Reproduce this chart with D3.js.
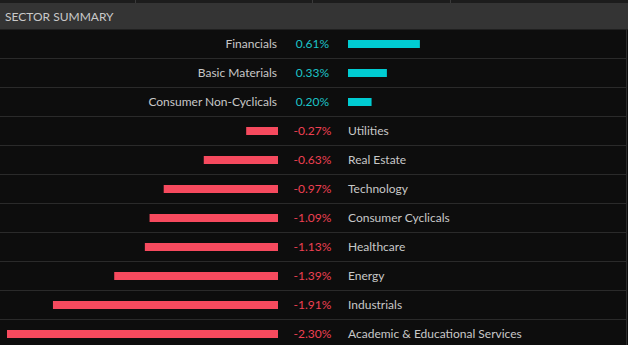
<!DOCTYPE html>
<html><head><meta charset="utf-8">
<script src="https://cdn.jsdelivr.net/npm/d3@7"></script>
<style>html,body{margin:0;padding:0;background:#0d0d0d;overflow:hidden}</style>
</head><body>
<script>
const title = "SECTOR SUMMARY";
const sectors = ["Financials","Basic Materials","Consumer Non-Cyclicals","Utilities","Real Estate","Technology","Consumer Cyclicals","Healthcare","Energy","Industrials","Academic & Educational Services"];
const values = [0.61,0.33,0.20,-0.27,-0.63,-0.97,-1.09,-1.13,-1.39,-1.91,-2.30];
const topSeparators = [135, 312, 450];

const W = 628, H = 345;
const FONT = "Lato, 'Open Sans', sans-serif";
const fmt = d3.formatLocale({decimal:".", thousands:",", grouping:[3], currency:["$",""], minus:"-"}).format(".2f");
const svg = d3.select("body").append("svg").attr("width", W).attr("height", H)
  .style("display","block").style("font-family", FONT);

svg.append("rect").attr("width", W).attr("height", H).attr("fill", "#0d0d0d");
// top strip
svg.append("rect").attr("x",0).attr("y",0).attr("width",W).attr("height",3).attr("fill","#1c1c1c");
svg.selectAll("line.tsep").data(topSeparators).join("line").attr("class","tsep")
  .attr("x1",d=>d+0.5).attr("x2",d=>d+0.5).attr("y1",0).attr("y2",3).attr("stroke","#3a3a3a");
// header
svg.append("rect").attr("x",0).attr("y",3).attr("width",W).attr("height",26.5).attr("fill","#343434");
svg.append("text").attr("x",5).attr("y",20.5).attr("fill","#c9c9c9").attr("font-size",12)
  .text(title);

const y = d3.scaleBand().domain(sectors).range([29.5, 29.5 + 29 * sectors.length]).paddingInner(0);
const maxAbs = d3.max(values, v => Math.abs(v));
const x = d3.scaleLinear().domain([0, maxAbs]).range([0, 271]);
const zeroNeg = 278, zeroPos = 348, valueCenter = 312.5, rightEdge = 626;

// right border
svg.append("line").attr("x1",rightEdge+0.5).attr("x2",rightEdge+0.5).attr("y1",29.5).attr("y2",H)
  .attr("stroke","#2c2c2c");

const rows = svg.selectAll("g.row").data(sectors.map((s,i)=>({s, v: values[i]}))).join("g")
  .attr("class","row").attr("transform", d => `translate(0,${y(d.s)})`);
const bh = y.bandwidth();

rows.append("line").attr("x1",0).attr("x2",rightEdge).attr("y1",bh).attr("y2",bh)
  .attr("stroke","#2a2a2a");

rows.append("rect")
  .attr("x", d => d.v >= 0 ? zeroPos : zeroNeg - x(Math.abs(d.v)))
  .attr("y", bh/2 - 4)
  .attr("width", d => x(Math.abs(d.v)))
  .attr("height", 8)
  .attr("fill", d => d.v >= 0 ? "#00ccd2" : "#f64a5e");

rows.append("text")
  .attr("x", valueCenter).attr("y", bh/2 + 4).attr("text-anchor","middle")
  .attr("font-size", 12)
  .attr("fill", d => d.v >= 0 ? "#1cc3c8" : "#ee4052")
  .text(d => fmt(d.v) + "%");

rows.append("text")
  .attr("x", d => d.v >= 0 ? zeroNeg - 1 : zeroPos)
  .attr("y", bh/2 + 4)
  .attr("text-anchor", d => d.v >= 0 ? "end" : "start")
  .attr("font-size", 12)
  .attr("fill", "#c8c8c8")
  .text(d => d.s);
</script>
</body></html>
